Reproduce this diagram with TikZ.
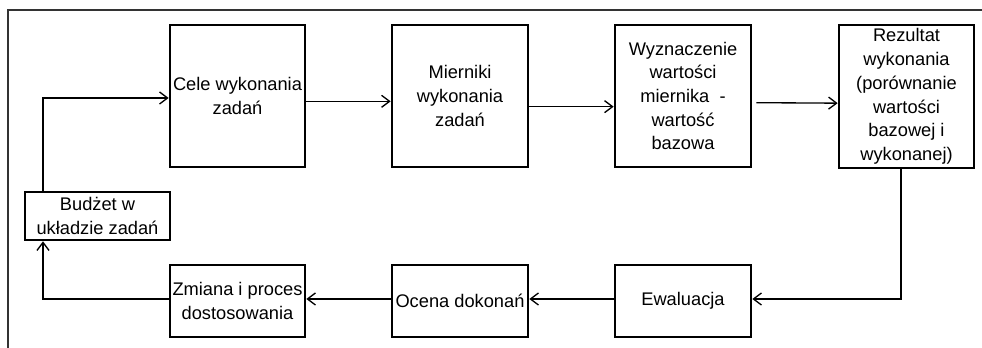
\documentclass[tikz,border=0pt]{standalone}
\usepackage{fontspec}
\setmainfont{Liberation Sans}
\usetikzlibrary{arrows.meta}
\begin{document}
\begin{tikzpicture}[x=0.75pt,y=-0.75pt,
  box/.style={draw=black,line width=2pt,align=center,inner sep=1pt,
    font=\fontsize{13.7}{17.8}\selectfont},
  conn/.style={draw=black,line width=1pt,-{Straight Barb[length=6pt,width=9pt,line width=1pt]}},
  frameline/.style={draw=black!80,line width=1.3pt}]
\useasboundingbox (0,0) rectangle (982,348);
\draw[frameline] (8,348) -- (8,10) -- (982,10);
\node[box,minimum width=101.25pt,minimum height=106.5pt] (cele) at (237.5,96) {Cele wykonania\\zadań};
\node[box,minimum width=102pt,minimum height=106.5pt] (mier) at (460,96) {Mierniki\\wykonania\\zadań};
\node[box,minimum width=102pt,minimum height=106.5pt] (wyz) at (683,96) {Wyznaczenie\\wartości\\miernika \ -\\wartość\\bazowa};
\node[box,minimum width=101.25pt,minimum height=107.25pt] (rez) at (906.5,96.5) {Rezultat\\wykonania\\(porównanie\\wartości\\bazowej i\\wykonanej)};
\node[box,minimum width=108.75pt,minimum height=36pt] (bud) at (97.5,216) {Budżet w\\układzie zadań};
\node[box,minimum width=101.25pt,minimum height=54pt] (zmi) at (237.5,301) {Zmiana i proces\\dostosowania};
\node[box,minimum width=102pt,minimum height=54pt] (oce) at (460,301) {Ocena dokonań};
\node[box,minimum width=102pt,minimum height=54pt] (ewa) at (683,301) {Ewaluacja};
\coordinate (c1) at (43,98);
\coordinate (c2) at (901,299);
\coordinate (c3) at (43,299);
\draw[conn] (bud.north -| c1) -- (c1) -- (cele.west |- c1);
\draw[conn] ([yshift=-4pt]cele.east) -- ([yshift=-4pt]mier.west);
\draw[conn] ([yshift=-8pt]mier.east) -- ([yshift=-8pt]wyz.west);
\draw[conn,shorten <=3pt] ([yshift=-5pt]wyz.east) -- ([yshift=-5pt]rez.west);
\draw[conn] (rez.south -| c2) -- (c2) -- (ewa.east |- c2);
\draw[conn] (ewa.west |- c2) -- (oce.east |- c2);
\draw[conn] (oce.west |- c2) -- (zmi.east |- c2);
\draw[conn] (zmi.west |- c3) -- (c3) -- (bud.south -| c3);
\end{tikzpicture}
\end{document}
